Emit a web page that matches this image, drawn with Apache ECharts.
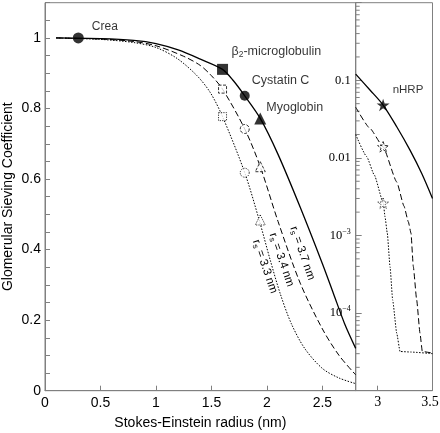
<!DOCTYPE html>
<html>
<head>
<meta charset="utf-8">
<script src="https://cdn.jsdelivr.net/npm/echarts@6/dist/echarts.min.js"></script>
<style>html,body{margin:0;padding:0;background:#fff}#c{width:440px;height:433px}</style>
</head>
<body>
<div id="c"></div>
<script>
// ---------- DATA ----------
// Left panel (linear scale): Stokes-Einstein radius (nm) vs sieving coefficient
const linRadius37 = [0.1, 0.5, 0.8, 1.0, 1.2, 1.4, 1.6, 1.7, 1.8, 1.94, 2.1, 2.3, 2.5, 2.6, 2.7, 2.8];
const linSieve37  = [1.0, 0.998, 0.993, 0.984, 0.966, 0.94, 0.911, 0.878, 0.836, 0.772, 0.67, 0.52, 0.36, 0.275, 0.19, 0.12];
const linRadius34 = [0.1, 0.5, 0.8, 1.0, 1.25, 1.4, 1.5, 1.6, 1.8, 1.94, 2.1, 2.3, 2.5, 2.65, 2.8];
const linSieve34  = [1.0, 0.997, 0.99, 0.978, 0.948, 0.922, 0.893, 0.855, 0.742, 0.635, 0.48, 0.305, 0.175, 0.1, 0.045];
const linRadius33 = [0.1, 0.5, 0.8, 1.0, 1.19, 1.37, 1.49, 1.6, 1.8, 1.93, 2.03, 2.12, 2.22, 2.34, 2.5, 2.65, 2.8];
const linSieve33  = [1.0, 0.996, 0.987, 0.973, 0.942, 0.893, 0.845, 0.777, 0.618, 0.484, 0.37, 0.275, 0.19, 0.12, 0.063, 0.036, 0.02];

// Right panel (log scale)
const logRadius37 = [2.8, 2.93, 3.05, 3.174, 3.295, 3.402, 3.5];
const logSieve37  = [0.12, 0.075, 0.048, 0.0252, 0.0126, 0.0063, 0.003];
const logRadius34 = [2.8, 2.93, 3.05, 3.174, 3.24, 3.28, 3.304, 3.325, 3.356, 3.386, 3.407, 3.5];
const logSieve34  = [0.045, 0.024, 0.0139, 0.0049, 0.0024, 0.0015, 0.00107, 0.0004, 0.000147, 0.000055, 0.000032, 0.0000305];
const logRadius33 = [2.8, 2.9, 2.97, 3.052, 3.067, 3.088, 3.113, 3.137, 3.174, 3.204, 3.3, 3.5];
const logSieve33  = [0.02, 0.0104, 0.006, 0.0026, 0.00175, 0.00107, 0.000396, 0.000147, 0.000055, 0.000032, 0.0000315, 0.00003];

// Marker molecules
const moleculeNames  = ['Crea', 'β{s|2}-microglobulin', 'Cystatin C', 'Myoglobin'];
const moleculeRadius = [0.3, 1.6, 1.8, 1.94];
const markerSieve37  = [1.0, 0.911, 0.836, 0.772];
const markerSieve34  = [null, 0.855, 0.742, 0.635];
const markerSieve33  = [null, 0.777, 0.618, 0.484];
const nhrpName   = 'nHRP';
const nhrpRadius = 3.05;
const nhrpSieve  = [0.048, 0.0139, 0.0026]; // rs = 3.7, 3.4, 3.3

// Curve annotations
const poreRadii     = ['3.7', '3.4', '3.3'];
const poreLabelX    = [2.32, 2.132, 1.982];
const poreLabelY    = [0.39, 0.371, 0.352];

// Tick labels
const linXTicks = ['0', '0.5', '1', '1.5', '2', '2.5'];
const linYTicks = ['0', '0.2', '0.4', '0.6', '0.8', '1'];
const logXTicks = [3, 3.5];
const logMantissas = [2, 3, 4, 5, 6, 7, 8, 9];
const logDecades = [1e-5, 1e-4, 1e-3, 1e-2, 1e-1];

// ---------- STYLE ----------
const SANS = '"Liberation Sans", Arial, Helvetica, sans-serif';
const SERIF = '"Liberation Serif", "Times New Roman", serif';
const GRAY = '#808080';
const markerShapes = ['circle', 'rect', 'circle', 'triangle'];
const markerSizes = [11, 11, 10, 12];
const openSizes = [0, 8, 9, 10];
const labelOffsets = [[8, -11], [3.5, -17.6], [2, -15.5], [0, -11.3]];
const labelFontSizes = [12, 12.5, 12.5, 12.5];
const STAR = 'path://M0,-50L11.23,-15.45L47.55,-15.45L18.16,5.9L29.39,40.45L0,19.1L-29.39,40.45L-18.16,5.9L-47.55,-15.45L-11.23,-15.45Z';
const dash34 = [6, 3];
const dash33 = [1.5, 1.5];

const zip = (xs, ys) => xs.map((x, i) => [x, ys[i]]);
const logMinor = [];
logDecades.forEach(d => logMantissas.forEach(m => logMinor.push([2.8, m * d])));

const chart = echarts.init(document.getElementById('c'));

function lineSeries(xi, data, type, width, smooth, mono) {
  return {
    type: 'line', xAxisIndex: xi, yAxisIndex: xi, data: data, showSymbol: false,
    smooth: smooth, smoothMonotone: mono, silent: true, z: 2,
    lineStyle: { color: '#000', width: width, type: type }
  };
}

const filledItems = moleculeNames.map((n, i) => ({
  value: [moleculeRadius[i], markerSieve37[i]],
  symbol: markerShapes[i], symbolSize: markerSizes[i],
  label: { formatter: n, offset: labelOffsets[i], fontSize: labelFontSizes[i] }
}));
function openItems(vals) {
  const out = [];
  vals.forEach((v, i) => { if (v != null) out.push({ value: [moleculeRadius[i], v], symbol: markerShapes[i], symbolSize: openSizes[i] }); });
  return out;
}

const option = {
  animation: false,
  backgroundColor: '#fff',
  grid: [
    { left: 45, top: 2.7, width: 310.7, height: 388, show: true, borderColor: GRAY, borderWidth: 1, backgroundColor: 'transparent', containLabel: false, outerBoundsMode: 'none' },
    { left: 355.7, top: 2.7, width: 76.8, height: 388, show: true, borderColor: GRAY, borderWidth: 1, backgroundColor: 'transparent', containLabel: false, outerBoundsMode: 'none' }
  ],
  xAxis: [
    {
      type: 'value', gridIndex: 0, min: 0, max: 2.8, interval: 0.5,
      axisLine: { lineStyle: { color: GRAY } },
      axisTick: { inside: true, length: 5, lineStyle: { color: GRAY } },
      splitLine: { show: false },
      axisLabel: {
        color: '#000', fontSize: 14, fontFamily: SANS, margin: 5,
        formatter: v => { const k = Math.round(v * 2); return Math.abs(v * 2 - k) < 1e-6 && k < linXTicks.length ? linXTicks[k] : ''; }
      },
      name: 'Stokes-Einstein radius (nm)', nameLocation: 'middle', nameGap: 25, nameMoveOverlap: false,
      nameTextStyle: { color: '#000', fontSize: 14, fontFamily: SANS }
    },
    {
      type: 'value', gridIndex: 1, min: 2.8, max: 3.5,
      axisLine: { lineStyle: { color: GRAY } },
      axisTick: { inside: true, length: 5, lineStyle: { color: GRAY }, customValues: [logXTicks[0]] },
      splitLine: { show: false },
      axisLabel: {
        color: '#000', fontSize: 14, fontFamily: SERIF, margin: 5, customValues: logXTicks,
        formatter: v => v === 3.5 ? '{m|3.5}' : String(v),
        rich: { m: { fontSize: 14, fontFamily: SERIF, color: '#000', padding: [0, 5, 0, 0] } }
      }
    }
  ],
  yAxis: [
    {
      type: 'value', gridIndex: 0, min: 0, max: 1.1, interval: 0.05,
      axisLine: { lineStyle: { color: GRAY } },
      axisTick: { inside: true, length: 5, lineStyle: { color: GRAY } },
      splitLine: { show: false },
      axisLabel: {
        color: '#000', fontSize: 14, fontFamily: SANS, margin: 4,
        formatter: v => { const k = Math.round(v * 5); return Math.abs(v * 5 - k) < 1e-6 && k < linYTicks.length ? linYTicks[k] : ''; }
      },
      name: 'Glomerular Sieving Coefficient', nameLocation: 'middle', nameGap: 30, nameMoveOverlap: false,
      nameTextStyle: { color: '#000', fontSize: 14, fontFamily: SANS }
    },
    {
      type: 'log', gridIndex: 1, min: 1e-5, max: 1, logBase: 10,
      axisLine: { lineStyle: { color: GRAY } },
      axisTick: { inside: true, length: 6, lineStyle: { color: GRAY } },
      splitLine: { show: false },
      axisLabel: {
        color: '#000', fontSize: 12.5, fontFamily: SERIF, margin: 5,
        formatter: v => {
          const e = Math.round(Math.log10(v));
          if (e === -1) return '0.1';
          if (e === -2) return '0.01';
          if (e === -3 || e === -4) return '10{s|−' + (-e) + '}';
          return '';
        },
        rich: { s: { fontSize: 8, fontFamily: SERIF, color: '#000', padding: [0, 0, 8, 0] } }
      }
    }
  ],
  series: [
    lineSeries(0, zip(linRadius37, linSieve37), 'solid', 1.3, 0.3),
    lineSeries(0, zip(linRadius34, linSieve34), dash34, 1, 0.3),
    lineSeries(0, zip(linRadius33, linSieve33), dash33, 1, 0.3),
    lineSeries(1, zip(logRadius37, logSieve37), 'solid', 1.3, 0.3),
    lineSeries(1, zip(logRadius34, logSieve34), dash34, 1, 0.15, 'x'),
    lineSeries(1, zip(logRadius33, logSieve33), dash33, 1, 0.15, 'x'),
    {
      type: 'custom', xAxisIndex: 1, yAxisIndex: 1, data: logMinor, silent: true, clip: false, z: 1,
      renderItem: (params, api) => {
        const p = api.coord([api.value(0), api.value(1)]);
        return { type: 'line', shape: { x1: p[0], y1: p[1], x2: p[0] + 4, y2: p[1] }, style: { stroke: GRAY, lineWidth: 1 } };
      }
    },
    {
      type: 'scatter', xAxisIndex: 0, yAxisIndex: 0, z: 5, silent: true,
      itemStyle: { color: '#000' },
      label: {
        show: true, position: 'right', distance: 0, color: '#000', fontFamily: SANS, fontSize: 12.5,
        rich: { s: { fontSize: 8.5, fontFamily: SANS, color: '#000', padding: [6, 0, 0, 0] } }
      },
      data: filledItems
    },
    {
      type: 'scatter', xAxisIndex: 0, yAxisIndex: 0, z: 5, silent: true,
      itemStyle: { color: '#fff', borderColor: '#000', borderWidth: 1, borderType: [3, 1.5] },
      data: openItems(markerSieve34)
    },
    {
      type: 'scatter', xAxisIndex: 0, yAxisIndex: 0, z: 5, silent: true,
      itemStyle: { color: '#fff', borderColor: '#000', borderWidth: 1, borderType: [1.2, 1.2] },
      data: openItems(markerSieve33)
    },
    {
      type: 'scatter', xAxisIndex: 1, yAxisIndex: 1, z: 5, silent: true,
      symbol: STAR, symbolKeepAspect: true, symbolSize: 13, itemStyle: { color: '#000' },
      label: { show: true, position: 'right', distance: 0, offset: [3, -14.8], formatter: nhrpName, color: '#000', fontFamily: SANS, fontSize: 11.5 },
      data: [[nhrpRadius, nhrpSieve[0]]]
    },
    {
      type: 'scatter', xAxisIndex: 1, yAxisIndex: 1, z: 5, silent: true,
      symbol: STAR, symbolKeepAspect: true, symbolSize: 11,
      itemStyle: { color: '#fff', borderColor: '#000', borderWidth: 1, borderType: [3, 1.5] },
      data: [[nhrpRadius, nhrpSieve[1]]]
    },
    {
      type: 'scatter', xAxisIndex: 1, yAxisIndex: 1, z: 5, silent: true,
      symbol: STAR, symbolKeepAspect: true, symbolSize: 11,
      itemStyle: { color: '#fff', borderColor: '#000', borderWidth: 1, borderType: [1.2, 1.2] },
      data: [[nhrpRadius, nhrpSieve[2]]]
    }
  ]
};
chart.setOption(option);

// rotated r_S annotations positioned through the axes
const graphics = poreRadii.map((r, i) => {
  const p = chart.convertToPixel({ xAxisIndex: 0, yAxisIndex: 0 }, [poreLabelX[i], poreLabelY[i]]);
  return {
    type: 'text', x: p[0], y: p[1], rotation: -71 * Math.PI / 180, silent: true, z: 6,
    style: {
      text: 'r{s|s} = ' + r + ' nm', fill: '#000', fontSize: 11.5, fontFamily: SANS,
      align: 'center', verticalAlign: 'middle',
      rich: { s: { fontSize: 8, fontFamily: SANS, fill: '#000', padding: [5, 0, 0, 0] } }
    }
  };
});
chart.setOption({ graphic: graphics });
</script>
</body>
</html>
